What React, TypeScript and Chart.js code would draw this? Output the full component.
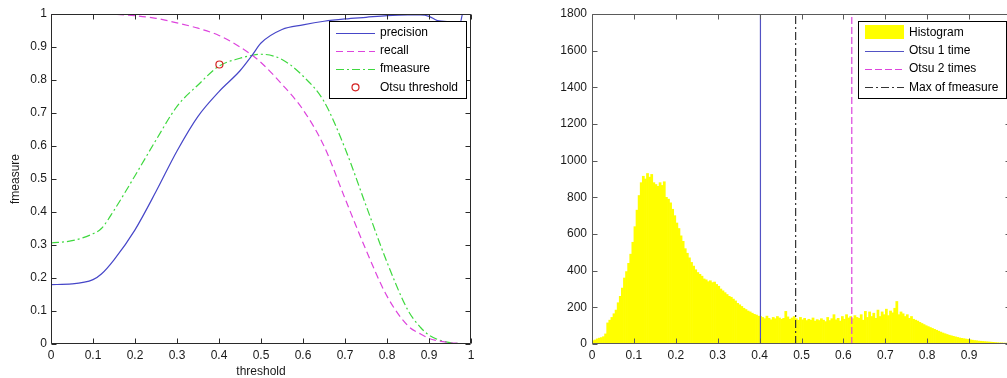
import React, { useEffect, useRef } from "react";
import { Chart, registerables } from "chart.js";

Chart.register(...registerables);

// ---------- Left chart data ----------
const thresholds = [0, 0.05, 0.1, 0.12, 0.15, 0.2, 0.25, 0.3, 0.35, 0.4, 0.45, 0.48, 0.5, 0.55, 0.6, 0.65, 0.7, 0.75, 0.8, 0.85, 0.88, 0.9, 0.92, 0.95, 0.975, 0.98, 1.0];
const precision = [0.18, 0.182, 0.195, 0.212, 0.255, 0.346, 0.462, 0.585, 0.69, 0.765, 0.828, 0.877, 0.912, 0.953, 0.967, 0.978, 0.985, 0.99, 0.995, 0.997, 0.997, 0.993, 0.98, 0.977, 0.976, 1.0, 1.0];
const recall = [1.0, 1.0, 1.0, 1.0, 0.999, 0.995, 0.987, 0.973, 0.957, 0.935, 0.9, 0.874, 0.853, 0.787, 0.71, 0.6, 0.441, 0.285, 0.145, 0.055, 0.03, 0.017, 0.01, 0.004, 0.001, 0.0, 0.0];
const fmeasure = [0.306, 0.313, 0.334, 0.35, 0.405, 0.51, 0.618, 0.72, 0.785, 0.842, 0.866, 0.875, 0.878, 0.862, 0.812, 0.735, 0.593, 0.42, 0.248, 0.102, 0.05, 0.027, 0.014, 0.004, 0.001, 0.0, 0.0];
const otsuThresholdX = [0.401];
const otsuThresholdY = [0.847];

const unitTickValues = [0, 0.1, 0.2, 0.3, 0.4, 0.5, 0.6, 0.7, 0.8, 0.9, 1];
const unitTickLabels = ["0", "0.1", "0.2", "0.3", "0.4", "0.5", "0.6", "0.7", "0.8", "0.9", "1"];

// ---------- Right chart data ----------
const histBinWidth = 0.005;
const histCounts = [
  18, 22, 28, 32, 35, 40, 55, 115, 130, 145,
  165, 185, 225, 260, 305, 360, 395, 440, 490, 555,
  640, 730, 810, 880, 915, 900, 930, 910, 925, 880,
  870, 860, 880, 865, 885, 800, 790, 770, 735, 700,
  660, 630, 590, 560, 520, 495, 470, 445, 425, 405,
  390, 380, 370, 355, 350, 340, 345, 335, 338, 325,
  315, 300, 290, 280, 270, 260, 255, 245, 235, 222,
  214, 205, 195, 188, 180, 175, 168, 162, 158, 152,
  150, 145, 138, 152, 140, 132, 145, 138, 150, 142,
  135, 140, 178, 148, 135, 142, 150, 138, 130, 145,
  132, 140, 128, 135, 130, 142, 125, 133, 128, 138,
  130, 122, 145, 128, 138, 160, 132, 140, 125, 150,
  135, 160, 142, 150, 138, 155, 145, 140, 160, 130,
  178, 145, 175, 150, 168, 140, 185, 150, 175, 160,
  190, 155, 180, 170, 195, 232, 160, 175, 165, 150,
  160, 140, 150, 135, 130, 125, 118, 112, 106, 100,
  95, 90, 85, 80, 75, 70, 65, 60, 56, 52,
  48, 45, 42, 39, 36, 33, 31, 29, 27, 25,
  23, 21, 19, 18, 16, 15, 14, 13, 12, 11,
  10, 9, 8, 7, 6, 6, 5, 5, 4, 4,
];
const otsuOnceX = 0.402;
const otsuTwiceX = 0.62;
const maxFmeasureX = 0.486;
const countTickValues = [0, 200, 400, 600, 800, 1000, 1200, 1400, 1600, 1800];
const countTickLabels = ["0", "200", "400", "600", "800", "1000", "1200", "1400", "1600", "1800"];

// ---------- Styles ----------
const FONT_FAMILY = '"Liberation Sans", Arial, Helvetica, sans-serif';
const BLUE = "#4646c8";
const MAGENTA = "#dd44dd";
const GREEN = "#3ed83e";
const RED = "#d42020";
const YELLOW = "#ffff00";
const DARK = "#333333";
const DASHED = [7, 4];
const DASHDOT = [8, 3, 2, 3];

type LegendItem = { label: string; kind: "line" | "marker" | "rect"; color: string; dash?: number[] };

function drawFrame(chart: any, color: string, tickLen: number) {
  const { ctx, chartArea: ca, scales } = chart;
  ctx.save();
  ctx.strokeStyle = color;
  ctx.lineWidth = 1;
  ctx.setLineDash([]);
  const L = Math.round(ca.left) + 0.5;
  const R = Math.round(ca.right) - 0.5;
  const T = Math.round(ca.top) + 0.5;
  const B = Math.round(ca.bottom) - 0.5;
  ctx.beginPath();
  ctx.rect(L, T, R - L, B - T);
  for (const t of scales.x.ticks) {
    const px = Math.round(scales.x.getPixelForValue(t.value)) + 0.5;
    ctx.moveTo(px, B);
    ctx.lineTo(px, B - tickLen);
    ctx.moveTo(px, T);
    ctx.lineTo(px, T + tickLen);
  }
  for (const t of scales.y.ticks) {
    const py = Math.round(scales.y.getPixelForValue(t.value)) + 0.5;
    ctx.moveTo(L, py);
    ctx.lineTo(L + tickLen, py);
    ctx.moveTo(R, py);
    ctx.lineTo(R - tickLen, py);
  }
  ctx.stroke();
  ctx.restore();
}

function drawLegend(chart: any, items: LegendItem[]) {
  const { ctx, chartArea: ca } = chart;
  ctx.save();
  ctx.font = `12px ${FONT_FAMILY}`;
  const maxW = Math.max(...items.map((i) => ctx.measureText(i.label).width));
  const w = Math.round(51 + maxW + 8);
  const h = 77;
  const right = Math.round(ca.right) - 5;
  const left = right - w;
  const top = Math.round(ca.top) + 7;
  ctx.fillStyle = "#ffffff";
  ctx.fillRect(left, top, w, h);
  ctx.strokeStyle = "#000000";
  ctx.lineWidth = 1;
  ctx.setLineDash([]);
  ctx.strokeRect(left + 0.5, top + 0.5, w, h);
  items.forEach((it, i) => {
    const cy = top + 11.7 + 18.2 * i;
    const x0 = left + 7;
    const x1 = left + 46;
    if (it.kind === "rect") {
      ctx.fillStyle = it.color;
      ctx.fillRect(x0, Math.round(cy) - 8, x1 - x0, 14);
    } else if (it.kind === "line") {
      ctx.strokeStyle = it.color;
      ctx.lineWidth = 1.2;
      ctx.setLineDash(it.dash || []);
      ctx.beginPath();
      ctx.moveTo(x0, Math.round(cy) + 0.5);
      ctx.lineTo(x1, Math.round(cy) + 0.5);
      ctx.stroke();
      ctx.setLineDash([]);
    } else {
      ctx.strokeStyle = it.color;
      ctx.lineWidth = 1.2;
      ctx.beginPath();
      ctx.arc((x0 + x1) / 2, cy, 3.5, 0, Math.PI * 2);
      ctx.stroke();
    }
    ctx.fillStyle = "#000000";
    ctx.textAlign = "left";
    ctx.textBaseline = "middle";
    ctx.fillText(it.label, left + 51, cy);
  });
  ctx.restore();
}

function makeDecorPlugin(id: string, frameColor: string, items: LegendItem[]) {
  return {
    id,
    afterDraw(chart: any) {
      drawFrame(chart, frameColor, 5);
      drawLegend(chart, items);
    },
  };
}

const tickFont = { family: FONT_FAMILY, size: 12 };

function xScale(withTitle: boolean) {
  return {
    type: "linear" as const,
    min: 0,
    max: 1,
    offset: false,
    grid: { display: false, drawTicks: false },
    border: { display: false },
    afterBuildTicks: (s: any) => {
      s.ticks = unitTickValues.map((v) => ({ value: v }));
    },
    afterFit: (s: any) => {
      s.height = 34;
      s.paddingLeft = 0;
      s.paddingRight = 0;
    },
    ticks: {
      autoSkip: false,
      maxRotation: 0,
      minRotation: 0,
      padding: 4,
      color: "#1a1a1a",
      font: tickFont,
      callback: (_v: any, i: number) => unitTickLabels[i],
    },
    title: withTitle
      ? { display: true, text: "threshold", color: "#1a1a1a", font: { family: FONT_FAMILY, size: 12, lineHeight: 1 }, padding: { top: 0, bottom: 0 } }
      : { display: false },
  };
}

function LeftChart() {
  const ref = useRef<HTMLCanvasElement | null>(null);
  useEffect(() => {
    if (!ref.current) return;
    const line = (label: string, values: number[], color: string, dash: number[]) => ({
      type: "line" as const,
      label,
      data: thresholds.map((t, i) => ({ x: t, y: values[i] })),
      borderColor: color,
      borderWidth: 1.2,
      borderDash: dash,
      pointRadius: 0,
      fill: false,
      cubicInterpolationMode: "monotone" as const,
    });
    const chart = new Chart(ref.current, {
      type: "line",
      data: {
        datasets: [
          {
            type: "line",
            label: "Otsu threshold",
            data: otsuThresholdX.map((x, i) => ({ x, y: otsuThresholdY[i] })),
            showLine: false,
            pointRadius: 3.5,
            pointBorderWidth: 1.2,
            pointBorderColor: RED,
            pointBackgroundColor: "rgba(0,0,0,0)",
            borderColor: RED,
          } as any,
          line("precision", precision, BLUE, []),
          line("recall", recall, MAGENTA, DASHED),
          line("fmeasure", fmeasure, GREEN, DASHDOT),
        ],
      },
      options: {
        responsive: false,
        maintainAspectRatio: false,
        animation: false,
        layout: { padding: { left: 0, right: 29, top: 14, bottom: 0 } },
        plugins: { legend: { display: false }, tooltip: { enabled: false } },
        scales: {
          x: xScale(true) as any,
          y: {
            type: "linear",
            min: 0,
            max: 1,
            grid: { display: false, drawTicks: false },
            border: { display: false },
            afterBuildTicks: (s: any) => {
              s.ticks = unitTickValues.map((v) => ({ value: v }));
            },
            afterFit: (s: any) => {
              s.width = 51;
              s.paddingTop = 0;
              s.paddingBottom = 0;
            },
            ticks: {
              padding: 4,
              color: "#1a1a1a",
              font: tickFont,
              callback: (_v: any, i: number) => unitTickLabels[i],
            },
            title: { display: true, text: "fmeasure", color: "#1a1a1a", font: { family: FONT_FAMILY, size: 12 }, padding: { top: 8.5, bottom: 0 } },
          } as any,
        },
      },
      plugins: [
        makeDecorPlugin("leftDecor", "#2a2a2a", [
          { label: "precision", kind: "line", color: BLUE },
          { label: "recall", kind: "line", color: MAGENTA, dash: DASHED },
          { label: "fmeasure", kind: "line", color: GREEN, dash: DASHDOT },
          { label: "Otsu threshold", kind: "marker", color: RED },
        ]),
      ],
    });
    return () => chart.destroy();
  }, []);
  return (
    <canvas ref={ref} width={500} height={378} style={{ position: "absolute", left: 0, top: 0, width: 500, height: 378 }} />
  );
}

function RightChart() {
  const ref = useRef<HTMLCanvasElement | null>(null);
  useEffect(() => {
    if (!ref.current) return;
    const vline = (label: string, x: number, color: string, dash: number[]) => ({
      type: "line" as const,
      label,
      order: 0,
      data: [
        { x, y: 0 },
        { x, y: countTickValues[countTickValues.length - 1] },
      ],
      borderColor: color,
      borderWidth: 1.2,
      borderDash: dash,
      pointRadius: 0,
      fill: false,
    });
    const chart = new Chart(ref.current, {
      type: "bar",
      data: {
        datasets: [
          {
            type: "bar",
            label: "Histogram",
            order: 1,
            data: histCounts.map((c, i) => ({ x: (i + 0.5) * histBinWidth, y: c })),
            backgroundColor: YELLOW,
            borderWidth: 0,
            barPercentage: 1,
            categoryPercentage: 1,
          } as any,
          vline("Otsu 1 time", otsuOnceX, "#5252c4", []),
          vline("Otsu 2 times", otsuTwiceX, MAGENTA, [7, 3]),
          vline("Max of fmeasure", maxFmeasureX, DARK, DASHDOT),
        ],
      },
      options: {
        responsive: false,
        maintainAspectRatio: false,
        animation: false,
        layout: { padding: { left: 0, right: 29, top: 14, bottom: 0 } },
        plugins: { legend: { display: false }, tooltip: { enabled: false } },
        scales: {
          x: xScale(false) as any,
          y: {
            type: "linear",
            min: 0,
            max: 1800,
            grid: { display: false, drawTicks: false },
            border: { display: false },
            afterBuildTicks: (s: any) => {
              s.ticks = countTickValues.map((v) => ({ value: v }));
            },
            afterFit: (s: any) => {
              s.width = 72;
              s.paddingTop = 0;
              s.paddingBottom = 0;
            },
            ticks: {
              padding: 5,
              color: "#1a1a1a",
              font: tickFont,
              callback: (_v: any, i: number) => countTickLabels[i],
            },
          } as any,
        },
      },
      plugins: [
        makeDecorPlugin("rightDecor", "#5a5a5a", [
          { label: "Histogram", kind: "rect", color: YELLOW },
          { label: "Otsu 1 time", kind: "line", color: "#5252c4" },
          { label: "Otsu 2 times", kind: "line", color: MAGENTA, dash: [7, 3] },
          { label: "Max of fmeasure", kind: "line", color: DARK, dash: DASHDOT },
        ]),
      ],
    });
    return () => chart.destroy();
  }, []);
  return (
    <canvas ref={ref} width={520} height={378} style={{ position: "absolute", left: 520, top: 0, width: 520, height: 378 }} />
  );
}

export default function App() {
  return (
    <div
      style={{
        position: "fixed",
        left: 0,
        top: 0,
        width: 1007,
        height: 378,
        overflow: "hidden",
        background: "#ffffff",
      }}
    >
      <LeftChart />
      <RightChart />
    </div>
  );
}
